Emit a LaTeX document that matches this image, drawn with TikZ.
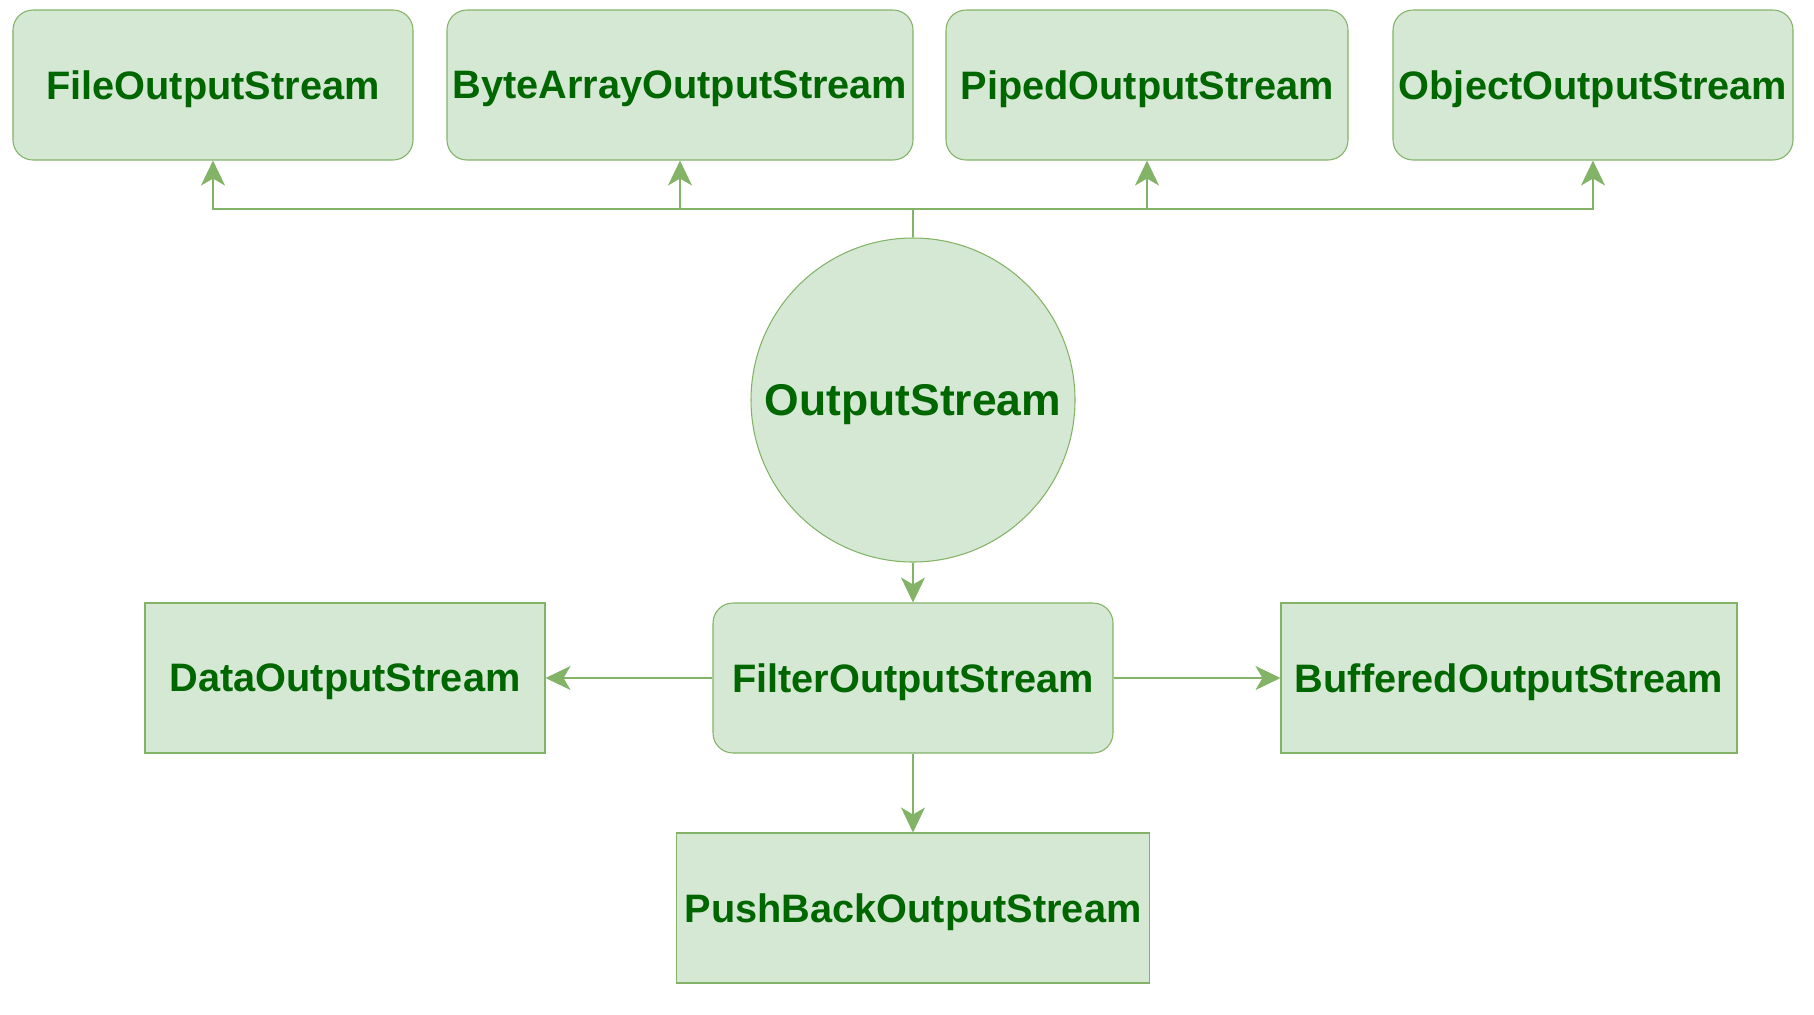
\documentclass[tikz,border=0pt]{standalone}
\usepackage{fontspec}
\setmainfont{Liberation Sans}
\usetikzlibrary{arrows.meta,positioning}

\definecolor{streamfill}{HTML}{D5E8D4}
\definecolor{streamline}{HTML}{82B366}
\definecolor{streamtext}{HTML}{006600}

\tikzset{
  stream/.style={draw=streamline, fill=streamfill, text=streamtext, line width=0.6pt,
    font=\fontsize{22.6}{27}\selectfont\bfseries, minimum height=3cm, inner sep=0pt,
    text depth=0pt},
  roundstream/.style={stream, rounded corners=0.4cm},
  link/.style={draw=streamline, line width=0.6pt,
    -{Stealth[length=0.5cm,width=0.48cm,inset=0.14cm]}}
}

\begin{document}
\begin{tikzpicture}

\useasboundingbox (0,0) rectangle (36.28,-20.28);

% base class
\node[stream, circle, minimum size=6.48cm, font=\fontsize{25.3}{30}\selectfont\bfseries]
  (out) at (18.26,-8.0) {OutputStream};

% direct subclasses
\foreach \name/\x/\w/\t in {file/4.26/8.0/FileOutputStream, bytes/13.6/9.32/ByteArrayOutputStream,
                            piped/22.94/8.04/PipedOutputStream, object/31.86/8.0/ObjectOutputStream}
  {
    \node[roundstream, minimum width=\w cm] (\name) at (\x,-1.7) {\t};
  }

\coordinate (bus) at (18.26,-4.18);
\foreach \name in {file,bytes,piped,object}
  \draw[link] (out.north) -- (bus) -| (\name.south);

% filter and its subclasses
\node[roundstream, minimum width=8.0cm] (filter) at (18.26,-13.56) {FilterOutputStream};
\node[stream, minimum width=8.0cm] (data) at (6.9,-13.56) {DataOutputStream};
\node[stream, minimum width=9.12cm] (buffered) at (30.18,-13.56) {BufferedOutputStream};
\node[stream, minimum width=9.46cm] (pushback) at (18.26,-18.16) {PushBackOutputStream};

\draw[link] (out.south) -- (filter.north);
\draw[link] (filter.west) -- (data.east);
\draw[link] (filter.east) -- (buffered.west);
\draw[link] (filter.south) -- (pushback.north);

\end{tikzpicture}
\end{document}
